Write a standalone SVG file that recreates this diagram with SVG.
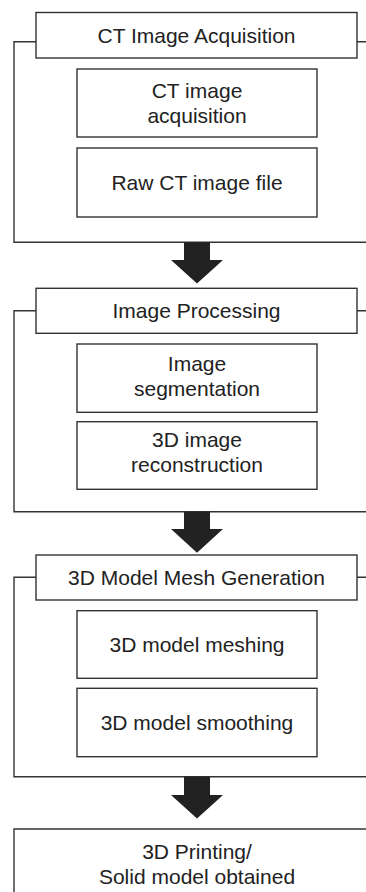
<svg xmlns="http://www.w3.org/2000/svg" width="366" height="892" viewBox="0 0 366 892">
  <style>
    .box { fill: #ffffff; stroke: #333333; stroke-width: 1.4; }
    .frame { fill: none; stroke: #333333; stroke-width: 1.4; }
    .label { font-family: "Liberation Sans", Arial, sans-serif; font-size: 21px; fill: #222222; text-anchor: middle; }
    .arrow { fill: #222222; stroke: none; }
  </style>
  <rect x="0" y="0" width="366" height="892" fill="#ffffff"/>

  <!-- Stage 1 -->
  <g id="stage1">
    <path class="frame" d="M36,41.7 H14 V242.3 H370 M357,41.7 H370"/>
    <g id="stage1-title">
      <rect class="box" x="36" y="12.5" width="321" height="45.5"/>
      <text class="label" x="196.5" y="42.5">CT Image Acquisition</text>
    </g>
    <g id="ct-acquisition">
      <rect class="box" x="77" y="69" width="240" height="68"/>
      <text class="label" x="197" y="98">CT image</text>
      <text class="label" x="197" y="123">acquisition</text>
    </g>
    <g id="raw-ct-file">
      <rect class="box" x="77" y="148" width="240" height="69"/>
      <text class="label" x="197" y="189.5">Raw CT image file</text>
    </g>
  </g>

  <!-- Stage 2 -->
  <g id="stage2">
    <path class="frame" d="M36,310.7 H14 V511.7 H370 M357,310.7 H370"/>
    <g id="stage2-title">
      <rect class="box" x="36" y="288.3" width="321" height="45"/>
      <text class="label" x="196.5" y="318.3">Image Processing</text>
    </g>
    <g id="segmentation">
      <rect class="box" x="77" y="344" width="240" height="68.3"/>
      <text class="label" x="197" y="371">Image</text>
      <text class="label" x="197" y="395.5">segmentation</text>
    </g>
    <g id="reconstruction">
      <rect class="box" x="77" y="421.7" width="240" height="67.6"/>
      <text class="label" x="197" y="447">3D image</text>
      <text class="label" x="197" y="472">reconstruction</text>
    </g>
  </g>

  <!-- Stage 3 -->
  <g id="stage3">
    <path class="frame" d="M36,577.3 H14 V776.7 H370 M357,577.3 H370"/>
    <g id="stage3-title">
      <rect class="box" x="36" y="555" width="321" height="45"/>
      <text class="label" x="196.5" y="585">3D Model Mesh Generation</text>
    </g>
    <g id="meshing">
      <rect class="box" x="77" y="610.7" width="240" height="67.6"/>
      <text class="label" x="197" y="651.5">3D model meshing</text>
    </g>
    <g id="smoothing">
      <rect class="box" x="77" y="688.3" width="240" height="68.4"/>
      <text class="label" x="197" y="729.5">3D model smoothing</text>
    </g>
  </g>

  <!-- Final output -->
  <g id="printing">
    <path class="frame" d="M14,900 V829 H370"/>
    <text class="label" x="197" y="859">3D Printing/</text>
    <text class="label" x="197" y="884">Solid model obtained</text>
  </g>

  <!-- Block arrows between stages -->
  <g id="connectors">
    <polygon class="arrow" points="184,242.3 210,242.3 210,260 223,260 197,283.5 171,260 184,260"/>
    <polygon class="arrow" points="184,511.7 210,511.7 210,529 223,529 197,552.7 171,529 184,529"/>
    <polygon class="arrow" points="184,776.7 210,776.7 210,795 223,795 197,818.5 171,795 184,795"/>
  </g>
</svg>
